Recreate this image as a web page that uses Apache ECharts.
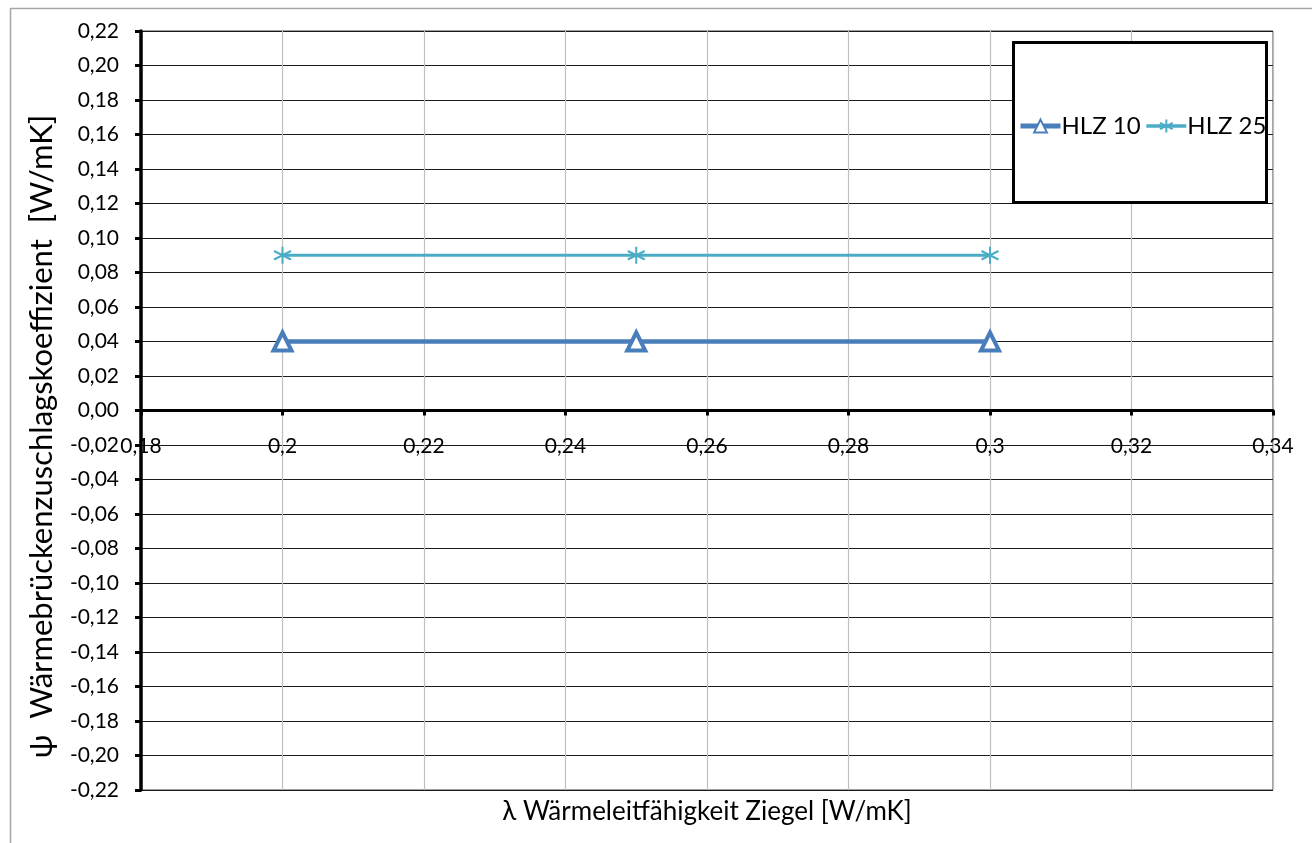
<!DOCTYPE html>
<html>
<head>
<meta charset="utf-8">
<script src="https://cdn.jsdelivr.net/npm/echarts@6/dist/echarts.min.js"></script>
<style>
html,body{margin:0;padding:0;background:#fff;}
#chart{width:1312px;height:843px;}
</style>
</head>
<body>
<div id="chart"></div>
<script>
const xValues = [0.2, 0.25, 0.3];
const hlz10 = [0.04, 0.04, 0.04];
const hlz25 = [0.09, 0.09, 0.09];
const seriesNames = ['HLZ 10', 'HLZ 25'];
const xTitle = 'λ Wärmeleitfähigkeit Ziegel [W/mK]';
const yTitle = 'ψ  Wärmebrückenzuschlagskoeffizient  [W/mK]';

const FONT = 'Lato, "Open Sans", sans-serif';
const starPath = 'path://M0,-10L0,10M-8.66,-5L8.66,5M-8.66,5L8.66,-5';

const GRID = {left: 141, right: 39, top: 31, bottom: 53};
const plotH = 843 - GRID.top - GRID.bottom;

const chart = echarts.init(document.getElementById('chart'), null, {renderer: 'canvas'});
chart.setOption({
  animation: false,
  backgroundColor: '#fff',
  textStyle: {fontFamily: FONT},
  grid: Object.assign({containLabel: false, outerBoundsMode: 'none',
         show: true, borderColor: '#404040', borderWidth: 1}, GRID),
  graphic: [
    {type: 'line', shape: {x1: 10, y1: 8.5, x2: 1312, y2: 8.5}, style: {stroke: '#a6a6a6', lineWidth: 1.5}},
    {type: 'line', shape: {x1: 10.5, y1: 8, x2: 10.5, y2: 843}, style: {stroke: '#a6a6a6', lineWidth: 1.5}},
    {type: 'rect', shape: {x: 1013.5, y: 42.5, width: 253, height: 160},
     style: {fill: '#fff', stroke: '#000', lineWidth: 3}, z: 50}
  ],
  legend: {
    data: [
      {name: seriesNames[0], lineStyle: {width: 5}},
      {name: seriesNames[1], lineStyle: {width: 3.5}}
    ],
    left: 1013, top: 109,
    itemWidth: 40, itemHeight: 16, itemGap: 4,
    textStyle: {fontSize: 24, color: '#000', fontFamily: FONT, padding: [0,0,0,-4]},
    z: 60
  },
  xAxis: {
    type: 'value', min: 0.18, max: 0.34, interval: 0.02,
    offset: -plotH / 2,
    name: xTitle, nameLocation: 'middle', nameGap: 388,
    nameTextStyle: {fontSize: 26, color: '#000', fontFamily: FONT},
    axisLine: {onZero: false, lineStyle: {color: '#000', width: 3}},
    axisTick: {show: true, inside: false, length: 5, lineStyle: {color: '#000', width: 3}},
    axisLabel: {fontSize: 21, color: '#000', margin: 25, fontFamily: FONT,
      formatter: v => String(Math.round(v * 100) / 100).replace('.', ',')},
    splitLine: {show: true, lineStyle: {color: '#bfbfbf', width: 1.2}}
  },
  yAxis: {
    type: 'value', min: -0.22, max: 0.22, interval: 0.02,
    name: yTitle, nameLocation: 'middle', nameGap: 84,
    nameTextStyle: {fontSize: 31, color: '#000', fontFamily: FONT, padding: [0, 52, 0, 0]},
    axisLine: {onZero: false, lineStyle: {color: '#000', width: 3.5}},
    axisTick: {show: true, length: 6, lineStyle: {color: '#000', width: 3}},
    axisLabel: {fontSize: 21, color: '#000', margin: 22, fontFamily: FONT,
      formatter: v => (Math.round(v * 100) / 100).toFixed(2).replace('.', ',')},
    splitLine: {show: true, lineStyle: {color: '#1a1a1a', width: 1}}
  },
  series: [
    {
      name: seriesNames[0], type: 'line',
      data: xValues.map((x, i) => [x, hlz10[i]]),
      lineStyle: {color: '#4a7ebb', width: 4.5},
      symbol: 'triangle', symbolSize: 18,
      itemStyle: {color: '#ffffff', borderColor: '#4a7ebb', borderWidth: 4},
      z: 3
    },
    {
      name: seriesNames[1], type: 'line',
      data: xValues.map((x, i) => [x, hlz25[i]]),
      lineStyle: {color: '#4bacc6', width: 3},
      symbol: starPath, symbolSize: 17,
      itemStyle: {color: '#4bacc6', borderColor: '#4bacc6', borderWidth: 2},
      z: 3
    }
  ]
});
</script>
</body>
</html>
